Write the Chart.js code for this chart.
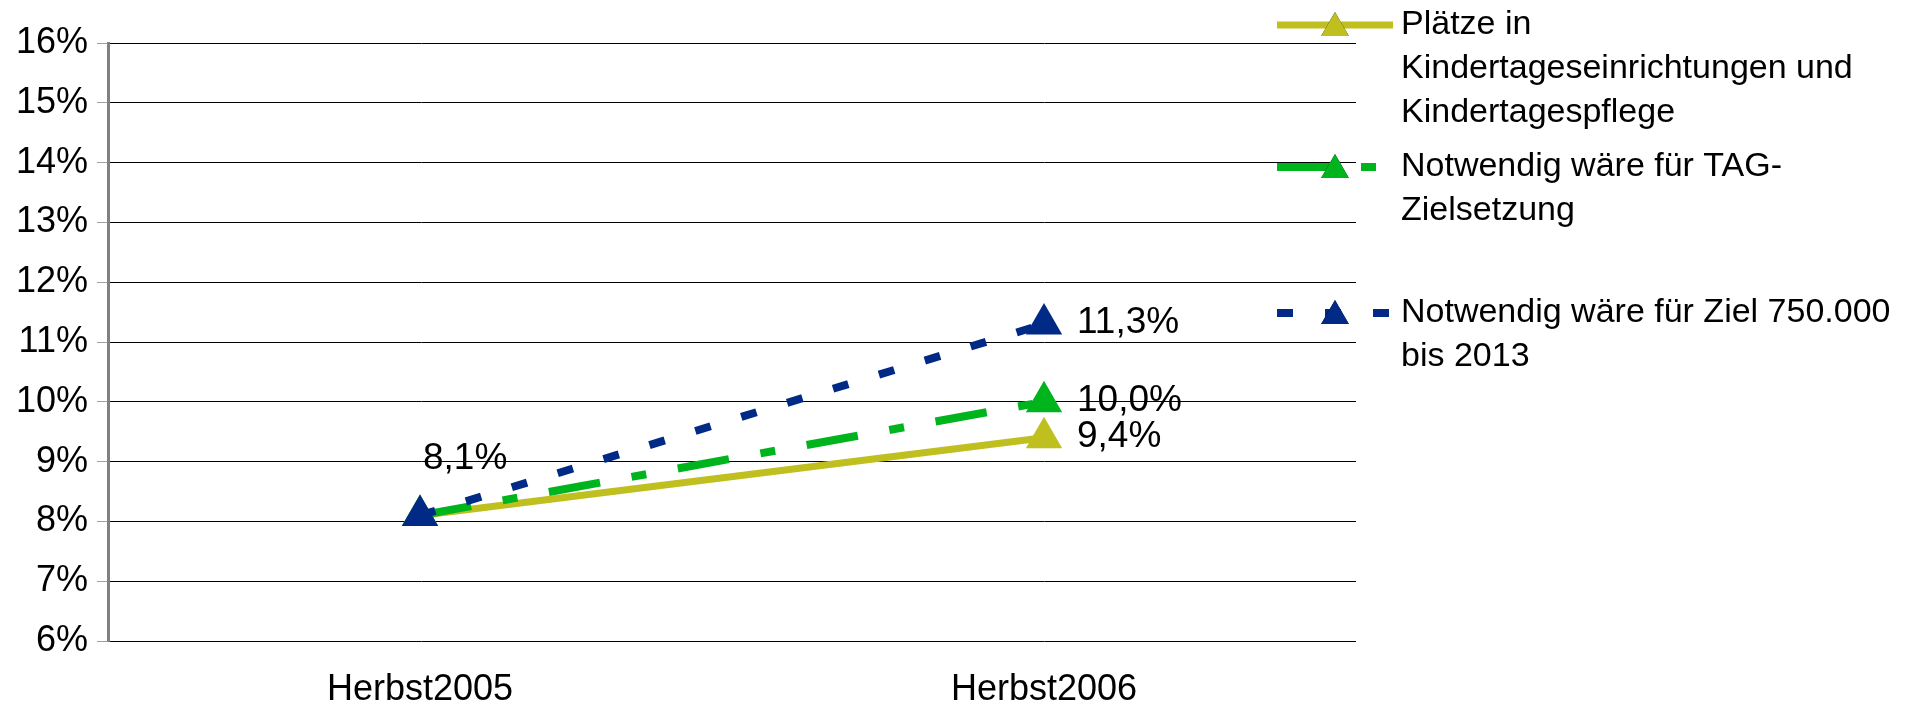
<!DOCTYPE html>
<html>
<head>
<meta charset="utf-8">
<title>Plätze in Kindertageseinrichtungen</title>
<script src="https://cdn.jsdelivr.net/npm/chart.js@4.4.1/dist/chart.umd.min.js"></script>
<style>
  html, body { margin: 0; padding: 0; background: #fff; }
  #wrap { width: 1907px; height: 705px; }
</style>
</head>
<body>
<div id="wrap"><canvas id="chart" width="1907" height="705"></canvas></div>
<script>
  const categories = ["Herbst2005", "Herbst2006"];
  const yTicks = [6, 7, 8, 9, 10, 11, 12, 13, 14, 15, 16];

  const platzeValues = [8.1, 9.4];
  const tagValues = [8.1, 10.0];
  const zielValues = [8.1, 11.3];

  // which points carry a value label
  const platzeLabelled = [false, true];
  const tagLabelled = [false, true];
  const zielLabelled = [true, true];

  const legendTexts = [
    ["Plätze in", "Kindertageseinrichtungen und", "Kindertagespflege"],
    ["Notwendig wäre für TAG-", "Zielsetzung"],
    ["Notwendig wäre für Ziel 750.000", "bis 2013"]
  ];

  const FONT = "'Liberation Sans', Arial, sans-serif";

  function fmtPct(v) {
    return v.toFixed(1).replace(".", ",") + "%";
  }

  const valueLabels = {
    id: "valueLabels",
    afterDatasetsDraw(chart) {
      const ctx = chart.ctx;
      ctx.save();
      ctx.fillStyle = "#000";
      ctx.font = "37px " + FONT;
      ctx.textAlign = "left";
      ctx.textBaseline = "middle";
      chart.data.datasets.forEach((ds, di) => {
        const meta = chart.getDatasetMeta(di);
        meta.data.forEach((pt, i) => {
          if (!ds.labelled[i]) {
            return;
          }
          const text = fmtPct(ds.data[i]);
          if (i === 0) {
            ctx.fillText(text, pt.x + 3, pt.y - 57);
          } else {
            ctx.fillText(text, pt.x + 33, pt.y - 1);
          }
        });
      });
      ctx.restore();
    }
  };

  const sideLegend = {
    id: "sideLegend",
    afterDraw(chart) {
      const ctx = chart.ctx;
      const rowY = [25, 167, 313];
      const lineX0 = 1277;
      const lineX1 = 1393;
      const textX = 1401;
      const lineH = 44;
      ctx.save();
      chart.data.datasets.forEach((ds, di) => {
        const y = rowY[di];
        ctx.strokeStyle = ds.borderColor;
        ctx.lineWidth = ds.borderWidth;
        ctx.setLineDash(ds.borderDash || []);
        ctx.lineCap = "butt";
        ctx.beginPath();
        ctx.moveTo(lineX0, y);
        ctx.lineTo(lineX1, y);
        ctx.stroke();
        ctx.setLineDash([]);
        Chart.helpers.drawPoint(ctx, {
          pointStyle: "triangle",
          radius: 16,
          borderWidth: 0,
          rotation: 0
        }, (lineX0 + lineX1) / 2, y + 3);
        ctx.fillStyle = ds.pointBackgroundColor;
        ctx.fill();

        ctx.fillStyle = "#000";
        ctx.font = "34px " + FONT;
        ctx.textAlign = "left";
        ctx.textBaseline = "middle";
        legendTexts[di].forEach((line, li) => {
          ctx.fillText(line, textX, y + li * lineH);
        });
      });
      ctx.restore();
    }
  };

  function series(label, data, labelled, color, width, dash, order) {
    return {
      label,
      data,
      labelled,
      order,
      borderColor: color,
      borderWidth: width,
      borderDash: dash,
      pointStyle: "triangle",
      pointRadius: 21,
      pointHoverRadius: 21,
      pointBackgroundColor: color,
      pointBorderColor: color,
      pointBorderWidth: 0,
      fill: false,
      tension: 0
    };
  }

  new Chart(document.getElementById("chart"), {
    type: "line",
    data: {
      labels: categories,
      datasets: [
        series(legendTexts[0].join(" "), platzeValues, platzeLabelled, "#c0bf20", 7, [], 2),
        series(legendTexts[1].join(" "), tagValues, tagLabelled, "#00b41e", 8, [52, 32, 15, 32], 1),
        series(legendTexts[2].join(" "), zielValues, zielLabelled, "#002a86", 8, [16, 32], 0)
      ]
    },
    options: {
      responsive: false,
      animation: false,
      devicePixelRatio: 1,
      layout: {
        padding: { top: 43, right: 551, bottom: 0, left: 0 }
      },
      plugins: {
        legend: { display: false },
        tooltip: { enabled: false }
      },
      scales: {
        x: {
          offset: true,
          grid: { display: false, drawTicks: false },
          border: { display: false },
          ticks: {
            color: "#000",
            padding: 27,
            font: { family: FONT, size: 36 }
          },
          afterFit(scale) {
            scale.height = 64;
          }
        },
        y: {
          min: 6,
          max: 16,
          afterBuildTicks(scale) {
            scale.ticks = yTicks.map((v) => ({ value: v }));
          },
          grid: {
            color: "#000",
            lineWidth: 1,
            tickColor: "#a0a0a0",
            tickLength: 11
          },
          border: { color: "#808080", width: 3 },
          ticks: {
            color: "#000",
            padding: 9,
            font: { family: FONT, size: 36 },
            callback: (v) => v + "%"
          },
          afterFit(scale) {
            scale.width = 108;
          }
        }
      }
    },
    plugins: [valueLabels, sideLegend]
  });
</script>
</body>
</html>
